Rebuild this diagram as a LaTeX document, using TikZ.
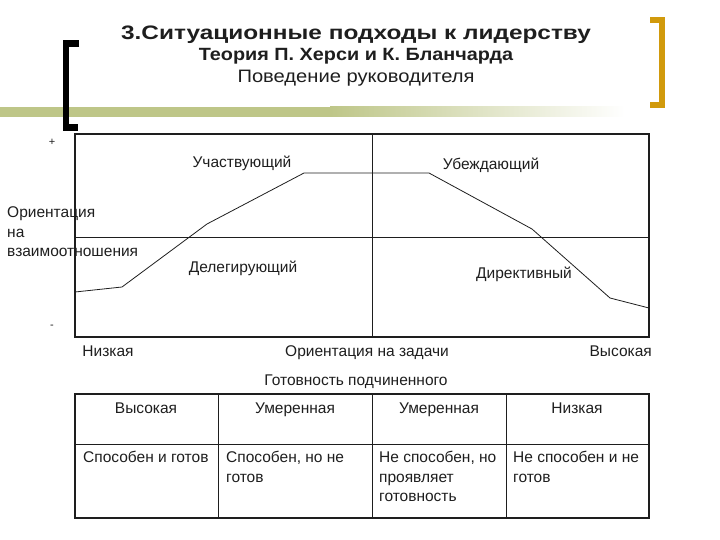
\documentclass[tikz,border=0pt]{standalone}
\usepackage{fontspec}
\setmainfont{Liberation Sans}
\newfontfamily\titlefont[FakeStretch=1.25]{Liberation Sans}
\newfontfamily\subtitlefont[FakeStretch=1.12]{Liberation Sans}
\usetikzlibrary{positioning}
\definecolor{BracketGold}{HTML}{D19A0C}
\definecolor{BandGreen}{HTML}{BEC688}
\definecolor{InkGray}{HTML}{1E1E1E}

\begin{document}
\begin{tikzpicture}[
    x=1pt, y=-1pt,
    font=\fontsize{15.5}{19.5}\selectfont,
    lbl/.style={inner sep=0pt, text=InkGray, anchor=base},
    hdr/.style={inner sep=0pt, text=InkGray, anchor=base, font=\fontsize{20}{24}\selectfont},
    cell/.style={inner sep=0pt, text=InkGray, anchor=north west, align=left},
    frame/.style={draw=InkGray, line width=1.6pt},
    grid/.style={draw=InkGray, line width=0.8pt},
    curve/.style={draw=InkGray, line width=0.8pt, line join=round}
]
\useasboundingbox (0,0) rectangle (720,540);

% header band and brackets
\fill[BandGreen] (0,107) rectangle (330,117);
\shade[left color=BandGreen, right color=white] (330,107) rectangle (625,117);
\draw[line width=6.5pt] (79,43.5) -- (66,43.5) -- (66,127.5) -- (78,127.5);
\draw[BracketGold, line width=6pt] (650,20.5) -- (662,20.5) -- (662,105) -- (650,105);

\node[hdr, font=\titlefont\fontsize{19.5}{23}\selectfont\bfseries] (title) at (356,40) {3.Ситуационные подходы к лидерству};
\node[hdr, font=\subtitlefont\fontsize{17.7}{21}\selectfont\bfseries] (theory) at (356,61) {Теория П. Херси и К. Бланчарда};
\node[hdr, font=\subtitlefont\fontsize{18}{22}\selectfont] (behav) at (356,83) {Поведение руководителя};

% chart
\draw[frame] (75,134) rectangle (649,337);
\draw[grid] (372,134) -- (372,337);
\draw[grid] (75,237) -- (649,237);
\draw[curve] (75,292) -- (122,287) -- (207,224) -- (304,173) -- (429,173)
    -- (532,229) -- (610,298) -- (649,308);

\node[lbl, font=\fontsize{11}{13}\selectfont] (plus) at (52,146) {+};
\node[lbl, font=\fontsize{11}{13}\selectfont] (minus) at (52,328) {-};
\node[lbl, anchor=west, align=left] (relat) at (7,232) {Ориентация\\на\\взаимоотношения};
\node[lbl] (particip) at (242,168) {Участвующий};
\node[lbl] (persuade) at (491,170) {Убеждающий};
\node[lbl] (delegate) at (243,272) {Делегирующий};
\node[lbl] (direct) at (524,278) {Директивный};
\node[lbl] (low) at (108,356) {Низкая};
\node[lbl] (task) at (367,356) {Ориентация на задачи};
\node[lbl, anchor=base east] (high) at (652,356) {Высокая};
\node[lbl] (ready) at (356,385) {Готовность подчиненного};

% readiness table
\draw[frame] (75,394) rectangle (649,518);
\draw[grid] (75,444) -- (649,444);
\foreach \cx in {218,372,506}
    \draw[grid] (\cx,394) -- (\cx,518);

\node[lbl] (r1) at (146,413) {Высокая};
\node[lbl] (r2) at (295,413) {Умеренная};
\node[lbl] (r3) at (439,413) {Умеренная};
\node[lbl] (r4) at (577,413) {Низкая};
\node[cell] (c1) at (83,451) {Способен и готов};
\node[cell] (c2) at (226,451) {Способен, но не\\готов};
\node[cell] (c3) at (379,451) {Не способен, но\\проявляет\\готовность};
\node[cell] (c4) at (513,451) {Не способен и не\\готов};
\end{tikzpicture}
\end{document}
